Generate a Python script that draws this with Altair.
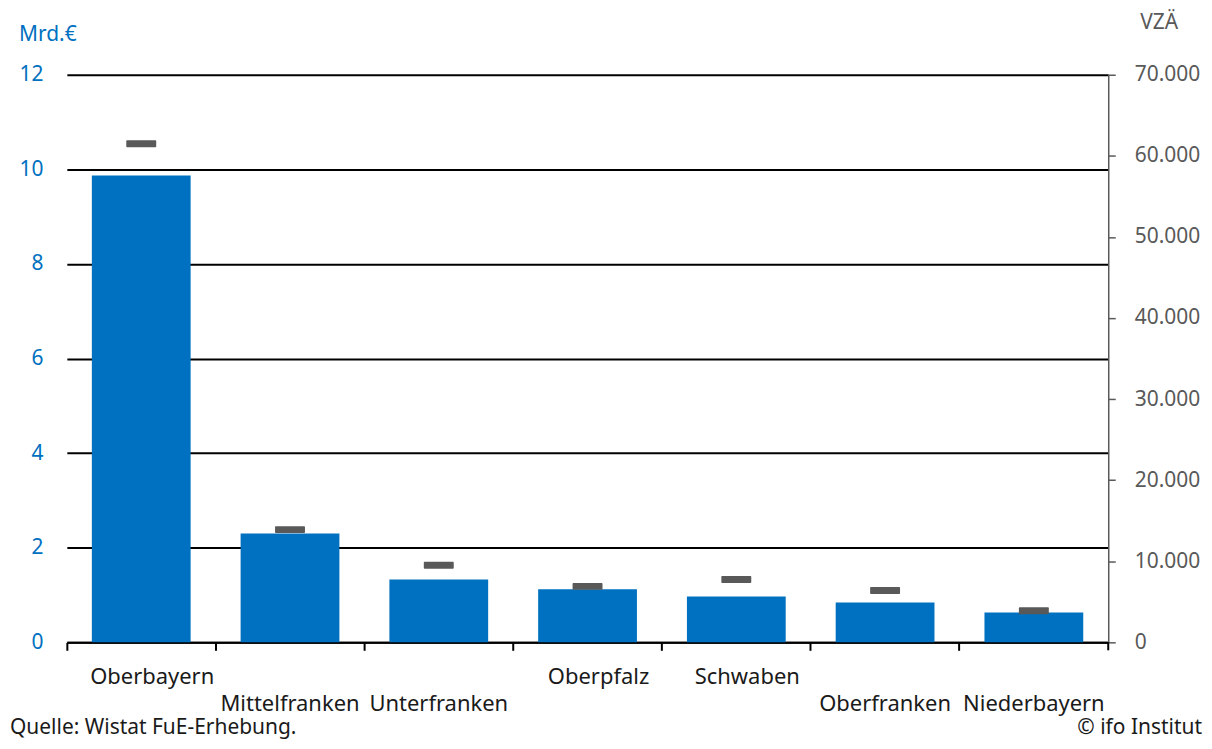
import altair as alt
import pandas as pd

regions = ["Oberbayern", "Mittelfranken", "Unterfranken", "Oberpfalz",
           "Schwaben", "Oberfranken", "Niederbayern"]
ausgaben_mrd = [9.87, 2.30, 1.33, 1.12, 0.97, 0.84, 0.63]
personal_vza = [61500, 13900, 9500, 6900, 7750, 6400, 3900]
label_row = [0, 1, 1, 0, 0, 1, 1]

df = pd.DataFrame({"region": regions, "mrd": ausgaben_mrd,
                   "vza": personal_vza, "row": label_row})
one = pd.DataFrame({"k": [0]})

W, H = 1044, 569
FONT = "Noto Sans"
BLUE = "#0070C0"
GREY = "#595959"
TXT = "#1a1a1a"

x = alt.X("region:N", sort=regions,
          scale=alt.Scale(paddingInner=0, paddingOuter=0),
          axis=alt.Axis(title=None, labels=False, bandPosition=0,
                        domainColor="black", domainWidth=2,
                        tickColor="black", tickWidth=2, tickSize=8, grid=False))

bars = alt.Chart(df).mark_bar(color=BLUE, width=alt.RelativeBandSize(0.664)).encode(
    x=x,
    y=alt.Y("mrd:Q", scale=alt.Scale(domain=[0, 12]),
            axis=alt.Axis(title=None, orient="left", values=[0, 2, 4, 6, 8, 10, 12],
                          domain=False, ticks=False, labelPadding=24,
                          labelColor=BLUE, labelFont=FONT, labelFontSize=21,
                          grid=True, gridColor="black", gridWidth=2)),
)

ticks = alt.Chart(df).mark_tick(color=GREY, size=30, thickness=7, opacity=1,
                                cornerRadius=1).encode(
    x=alt.X("region:N", sort=regions),
    y=alt.Y("vza:Q", scale=alt.Scale(domain=[0, 70000]),
            axis=alt.Axis(title=None, orient="right",
                          values=[0, 10000, 20000, 30000, 40000, 50000, 60000, 70000],
                          labelExpr="replace(format(datum.value, ','), ',', '.')",
                          domain=True, domainColor=GREY, domainWidth=1.5, tickColor=GREY,
                          tickSize=7, tickWidth=1.5, labelPadding=19,
                          labelColor=GREY, labelFont=FONT, labelFontSize=21,
                          grid=False)),
)

lab_top = alt.Chart(df).transform_filter("datum.row == 0").mark_text(
    font=FONT, fontSize=22, color=TXT, dx=11, baseline="middle").encode(
    x=alt.X("region:N", sort=regions), y=alt.value(H + 35), text="region:N")

lab_bot = alt.Chart(df).transform_filter("datum.row == 1").mark_text(
    font=FONT, fontSize=22, color=TXT, baseline="middle").encode(
    x=alt.X("region:N", sort=regions), y=alt.value(H + 62), text="region:N")

end_tick = alt.Chart(one).mark_rule(color="black", strokeWidth=2).encode(
    x=alt.value(W), y=alt.value(H), y2=alt.value(H + 8))

t_left = alt.Chart(one).mark_text(font=FONT, fontSize=21, color=BLUE, align="left",
                                  baseline="middle").encode(
    x=alt.value(-48), y=alt.value(-40), text=alt.value("Mrd.€"))
t_right = alt.Chart(one).mark_text(font=FONT, fontSize=21, color=GREY, align="left",
                                   baseline="middle").encode(
    x=alt.value(W + 32), y=alt.value(-52), text=alt.value("VZÄ"))
src = alt.Chart(one).mark_text(font=FONT, fontSize=21, color=TXT, align="left",
                               baseline="middle").encode(
    x=alt.value(-57), y=alt.value(H + 86), text=alt.value("Quelle: Wistat FuE-Erhebung."))
copy = alt.Chart(one).mark_text(font=FONT, fontSize=21, color=TXT, align="right",
                                baseline="middle").encode(
    x=alt.value(W + 94), y=alt.value(H + 86), text=alt.value("© ifo Institut"))

left = alt.layer(bars, lab_top, lab_bot, end_tick, t_left, t_right, src, copy)
chart = alt.layer(left, ticks).resolve_scale(y="independent").properties(
    width=W, height=H,
    background="white",
    autosize=alt.AutoSizeParams(type="none"),
    padding={"left": 59, "top": 66, "right": 96, "bottom": 98},
).configure_view(stroke="transparent", strokeWidth=0).configure_axisX(grid=False)

chart.save("out.html", embed_options={"renderer": "svg", "actions": False})
